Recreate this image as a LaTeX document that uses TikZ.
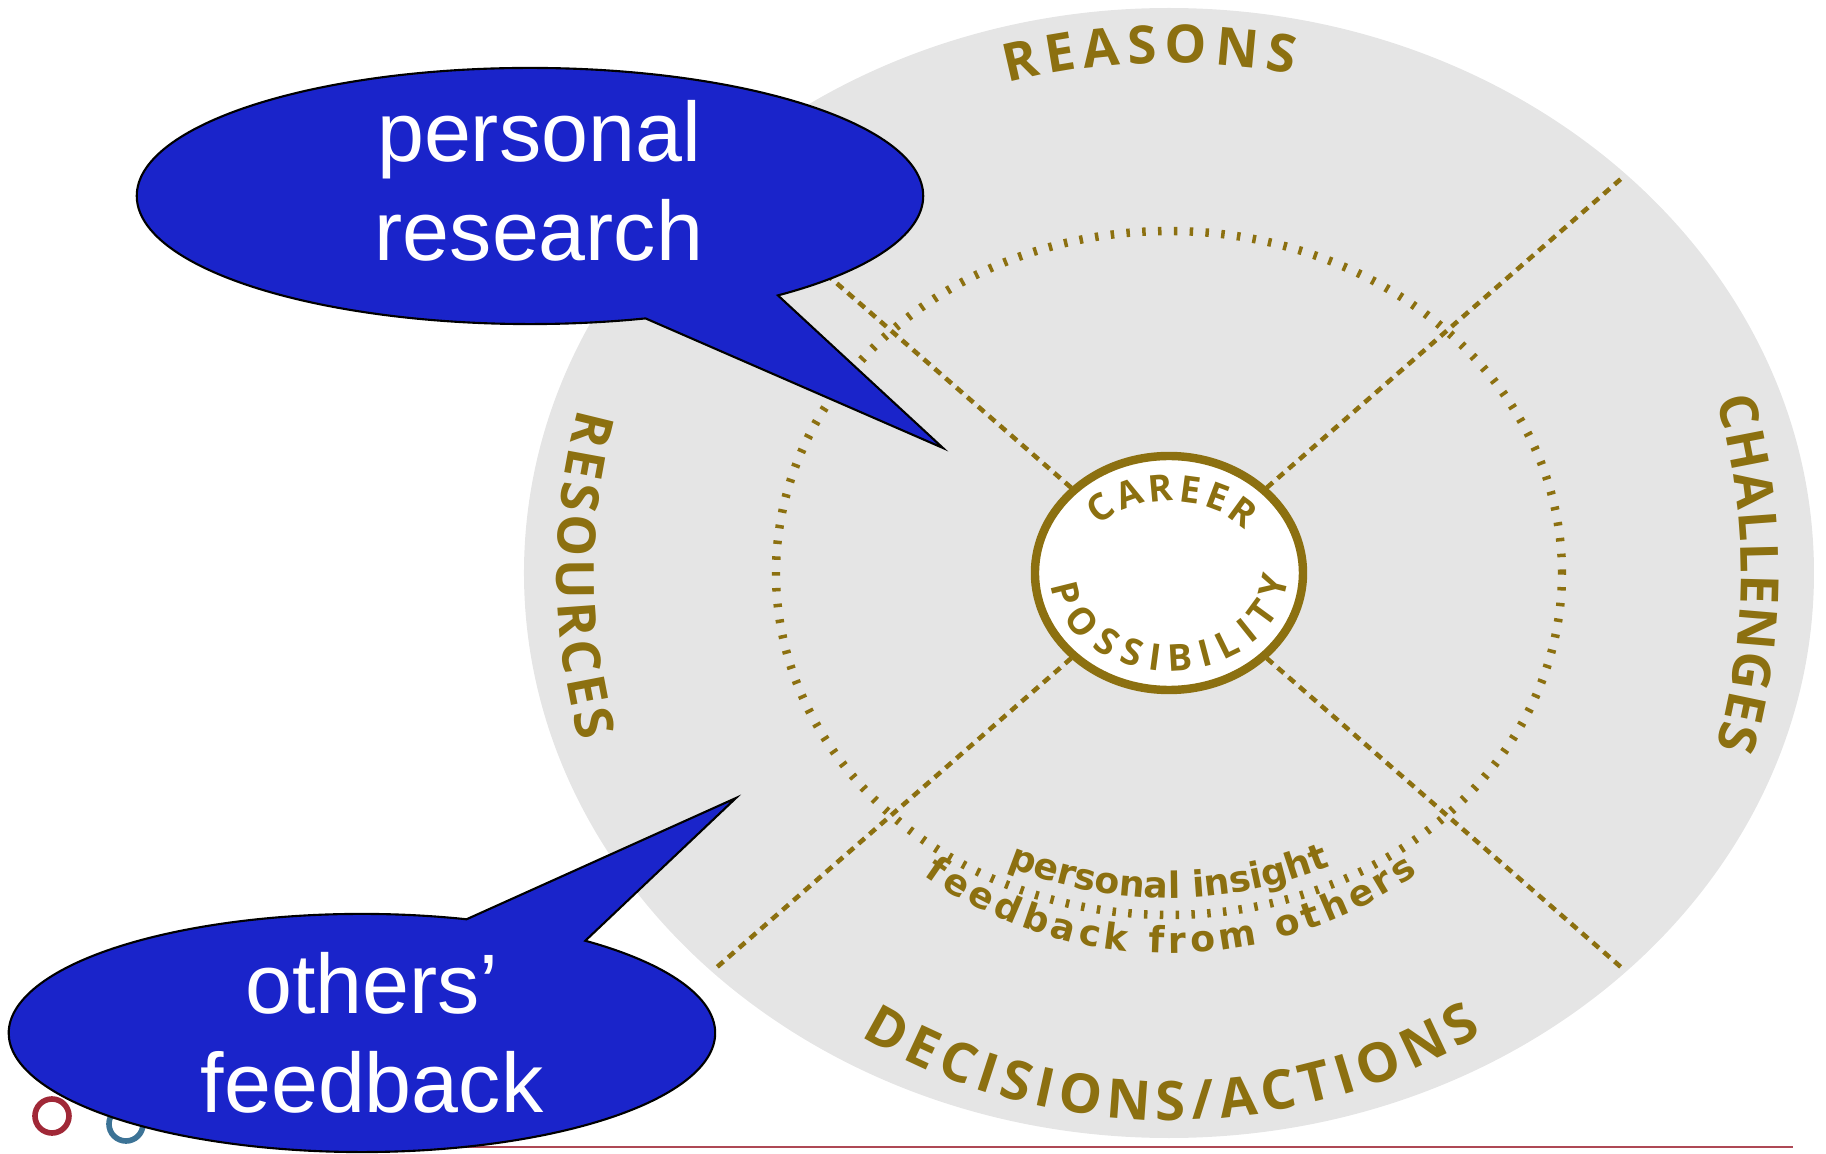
\documentclass[tikz,border=0pt]{standalone}
\usepackage{fontspec}
\usetikzlibrary{shapes.callouts,decorations.text}

\setmainfont{Liberation Sans}
\newfontfamily\capsfont{Open Sans}
\newfontfamily\insightfont{DejaVu Sans}

\definecolor{gold}{RGB}{140,112,16}
\definecolor{discgray}{RGB}{229,229,229}
\definecolor{bubbleblue}{RGB}{26,36,202}
\definecolor{logored}{RGB}{160,40,55}
\definecolor{logoblue}{RGB}{60,115,150}

% gold lettering, size and tracking
\newcommand\goldcaps[2]{\capsfont\bfseries\fontsize{#1}{#1}\selectfont\color{gold}\kern#2}
\newcommand\goldtext[2]{\insightfont\bfseries\fontsize{#1}{#1}\selectfont\color{gold}\kern#2}

\begin{document}
\begin{tikzpicture}[x=0.01cm, y=0.01cm,
    bubble/.style={ellipse callout, draw=black, line width=0.6pt, fill=bubbleblue,
        inner sep=0pt, callout pointer arc=22},
    bubbletext/.style={text=white, align=center, font=\fontsize{24}{28}\selectfont},
    spoke/.style={gold, line width=1.3pt, dash pattern=on 2.3pt off 1.8pt},
    arclabel/.style={decorate, decoration={text along path, text align=center, text={#1}}}
    ]

    \useasboundingbox (-1169,-581) rectangle (657,573);
    \coordinate (hub) at (0,0);

    % footer line and logo rings
    \draw[logored!85, line width=0.7pt] (-749,-574) -- (624,-574);
    \draw[logored, line width=1.6pt] (-1117,-543) circle (17);
    \draw[logoblue, line width=1.6pt] (-1043,-551) circle (17);

    % disc
    \fill[discgray] (hub) ellipse [x radius=645, y radius=565];

    % dotted ring
    \draw[gold, line width=2.4pt, dash pattern=on 1pt off 3.5pt]
        (hub) ellipse [x radius=393, y radius=342];

    % spokes
    \foreach \sx/\sy in {1/1,-1/1,-1/-1,1/-1}
        \draw[spoke] (hub) -- (453*\sx,395*\sy);

    % centre
    \draw[gold, line width=2.4pt, fill=white] (hub) ellipse [x radius=134, y radius=117];

    \path[arclabel={|\goldcaps{10.5}{2.1pt}|CAREER}, decoration={raise=-0.13cm}]
        (180:106 and 85) arc[start angle=180, end angle=0, x radius=106, y radius=85];
    \path[arclabel={|\goldcaps{10.5}{2pt}|POSSIBILITY}, decoration={raise=-0.13cm}]
        (180:106 and 85) arc[start angle=180, end angle=360, x radius=106, y radius=85];

    % outer labels
    \path[arclabel={|\goldcaps{15}{2.1pt}|REASONS}]
        (152.5:585 and 510) arc[start angle=152.5, end angle=32.5, x radius=585, y radius=510];
    \path[arclabel={|\goldcaps{15}{0.4pt}|CHALLENGES}]
        (40:572 and 600) arc[start angle=40, end angle=-40, x radius=572, y radius=600];
    \path[arclabel={|\goldcaps{15}{1.2pt}|RESOURCES}]
        (140:612 and 620) arc[start angle=140, end angle=220, x radius=612, y radius=620];
    \path[arclabel={|\goldcaps{15.5}{1.8pt}|DECISIONS/ACTIONS}]
        (200:580 and 547) arc[start angle=200, end angle=340, x radius=580, y radius=547];

    % inner labels
    \path[arclabel={|\goldtext{10.3}{0pt}|personal insight}]
        (195:375 and 325) arc[start angle=195, end angle=345, x radius=375, y radius=325];
    \path[arclabel={|\goldtext{10.3}{1.3pt}|feedback from others}]
        (200:405 and 380) arc[start angle=200, end angle=340, x radius=405, y radius=380];

    % callouts
    \coordinate (researchtip) at (-226,125);
    \node[bubble, minimum width=7.86cm, minimum height=2.56cm,
        callout absolute pointer={(researchtip)}] (research) at (-639,377) {};
    \node[bubbletext] (researchtext) at ([xshift=0.09cm, yshift=0.15cm]research.center)
        {personal\\research};

    \coordinate (feedbacktip) at (-433,-225);
    \node[bubble, minimum width=7.06cm, minimum height=2.38cm,
        callout absolute pointer={(feedbacktip)}] (feedback) at (-807,-460) {};
    \node[bubbletext] (feedbacktext) at ([xshift=0.1cm]feedback.center)
        {others’\\feedback};

\end{tikzpicture}
\end{document}
